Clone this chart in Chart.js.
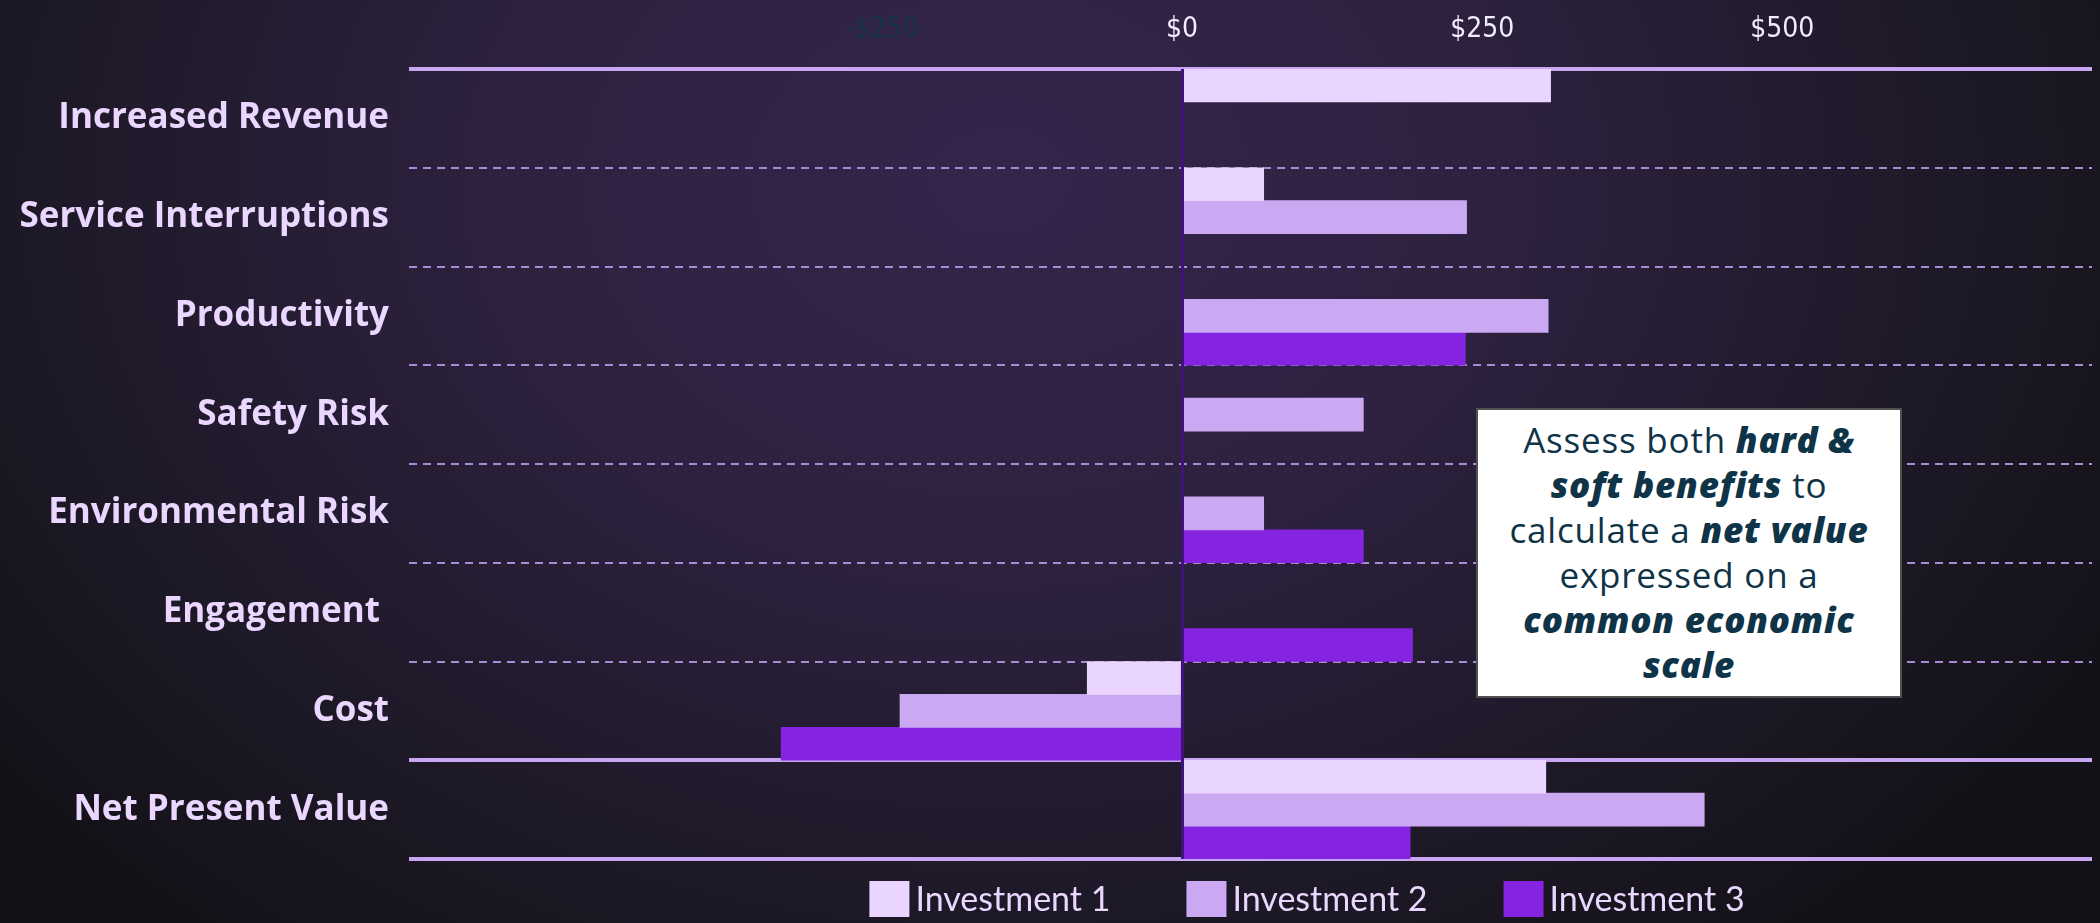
<!DOCTYPE html>
<html>
<head>
<meta charset="utf-8">
<script src="https://cdn.jsdelivr.net/npm/chart.js@4.4.1/dist/chart.umd.min.js"></script>
<style>
  html, body { margin:0; padding:0; width:2100px; height:923px; overflow:hidden; }
  body {
    background:
      radial-gradient(ellipse 1250px 950px at 1000px 180px, #34254b 0%, #2d213f 40%, #1e1928 75%, #141219 100%);
  }
  #wrap { position:relative; width:2100px; height:923px; }
  #c { position:absolute; left:0; top:0; }
  #note {
    position:absolute; left:1476px; top:408px; width:426px; height:290px;
    box-sizing:border-box; background:#ffffff; border:2px solid #505050;
    color:#0f3347; font-family:"Open Sans", Lato, sans-serif; font-size:35px;
    letter-spacing:0.8px;
    line-height:45px; text-align:center; padding-top:7px; white-space:nowrap;
  }
  #note b { font-weight:800; font-style:italic; }
</style>
</head>
<body>
<div id="wrap">
  <canvas id="c" width="2100" height="923"></canvas>
  <div id="note">Assess both <b>hard &amp;</b><br><b>soft benefits</b> to<br>calculate a <b>net value</b><br>expressed on a<br><b>common economic</b><br><b>scale</b></div>
</div>
<script>
// ---- data ----
const categories = ['Increased Revenue', 'Service Interruptions', 'Productivity', 'Safety Risk',
                    'Environmental Risk', 'Engagement ', 'Cost', 'Net Present Value'];
const seriesNames = ['Investment 1', 'Investment 2', 'Investment 3'];
const investment1 = [307, 68, null, null, null, null, -79, 303];
const investment2 = [null, 237, 305, 151, 68, null, -235, 435];
const investment3 = [null, null, 236, null, 151, 192, -334, 190];
const xTickValues = [-250, 0, 250, 500];
const xTickLabels = ['-$250', '$0', '$250', '$500'];

// ---- styles ----
const colors = ['#e9d5ff', '#cba8f2', '#8424e0'];
const solidLineIdx = [0, 7];

const legendPlugin = {
  id: 'customLegend',
  afterDraw(chart) {
    const ctx = chart.ctx;
    const boxW = 40, boxH = 36, gap = 6, spacing = 76, centerX = 1307, top = 881;
    ctx.save();
    ctx.font = '400 34px Lato';
    ctx.textBaseline = 'middle';
    const items = chart.data.datasets.map(ds => ({
      label: ds.label, color: ds.backgroundColor,
      w: boxW + gap + ctx.measureText(ds.label).width
    }));
    const total = items.reduce((s, it) => s + it.w, 0) + spacing * (items.length - 1);
    let x = centerX - total / 2;
    items.forEach(it => {
      ctx.fillStyle = it.color;
      ctx.fillRect(x, top, boxW, boxH);
      ctx.fillStyle = '#ead7ff';
      ctx.fillText(it.label, x + boxW + gap, top + boxH / 2 + 1);
      x += it.w + spacing;
    });
    ctx.restore();
  }
};

new Chart(document.getElementById('c'), {
  type: 'bar',
  data: {
    labels: categories,
    datasets: [investment1, investment2, investment3].map((d, i) => ({
      label: seriesNames[i],
      data: d,
      backgroundColor: colors[i],
      borderWidth: 0,
      categoryPercentage: 1.0,
      barPercentage: 1.0
    }))
  },
  options: {
    indexAxis: 'y',
    responsive: false,
    animation: false,
    devicePixelRatio: 1,
    layout: { padding: { left: 0, right: 8, top: 0, bottom: 64 } },
    plugins: { legend: { display: false }, tooltip: { enabled: false } },
    scales: {
      x: {
        position: 'top',
        min: -644,
        max: 758,
        afterBuildTicks: s => { s.ticks = xTickValues.map(v => ({ value: v })); },
        afterFit: s => { s.height = 69; },
        ticks: {
          padding: 22,
          color: c => (c.tick && c.tick.value < 0) ? '#173447' : '#f3ecff',
          font: { family: '"DejaVu Sans Condensed", "Liberation Sans", sans-serif', size: 28 },
          callback: (v) => xTickLabels[xTickValues.indexOf(v)]
        },
        grid: {
          drawTicks: false,
          z: 1,
          color: c => (c.tick && c.tick.value === 0) ? '#3e137a' : 'rgba(0,0,0,0)',
          lineWidth: c => (c.tick && c.tick.value === 0) ? 3 : 0
        },
        border: { display: false }
      },
      y: {
        offset: true,
        afterFit: s => { s.width = 409; },
        ticks: {
          padding: 20,
          color: '#ead6ff',
          font: { family: '"Open Sans", Lato, sans-serif', weight: 'bold', size: 35 }
        },
        grid: {
          offset: true,
          drawTicks: false,
          color: c => (c.index === undefined || solidLineIdx.includes(c.index)) ? '#c9a6f1' : '#a98bd3',
          lineWidth: c => (c.index === undefined || solidLineIdx.includes(c.index)) ? 4 : 2
        },
        border: {
          display: false,
          dash: c => (c.index === undefined || solidLineIdx.includes(c.index)) ? [] : [8, 6]
        }
      }
    }
  },
  plugins: [legendPlugin]
});
</script>
</body>
</html>
